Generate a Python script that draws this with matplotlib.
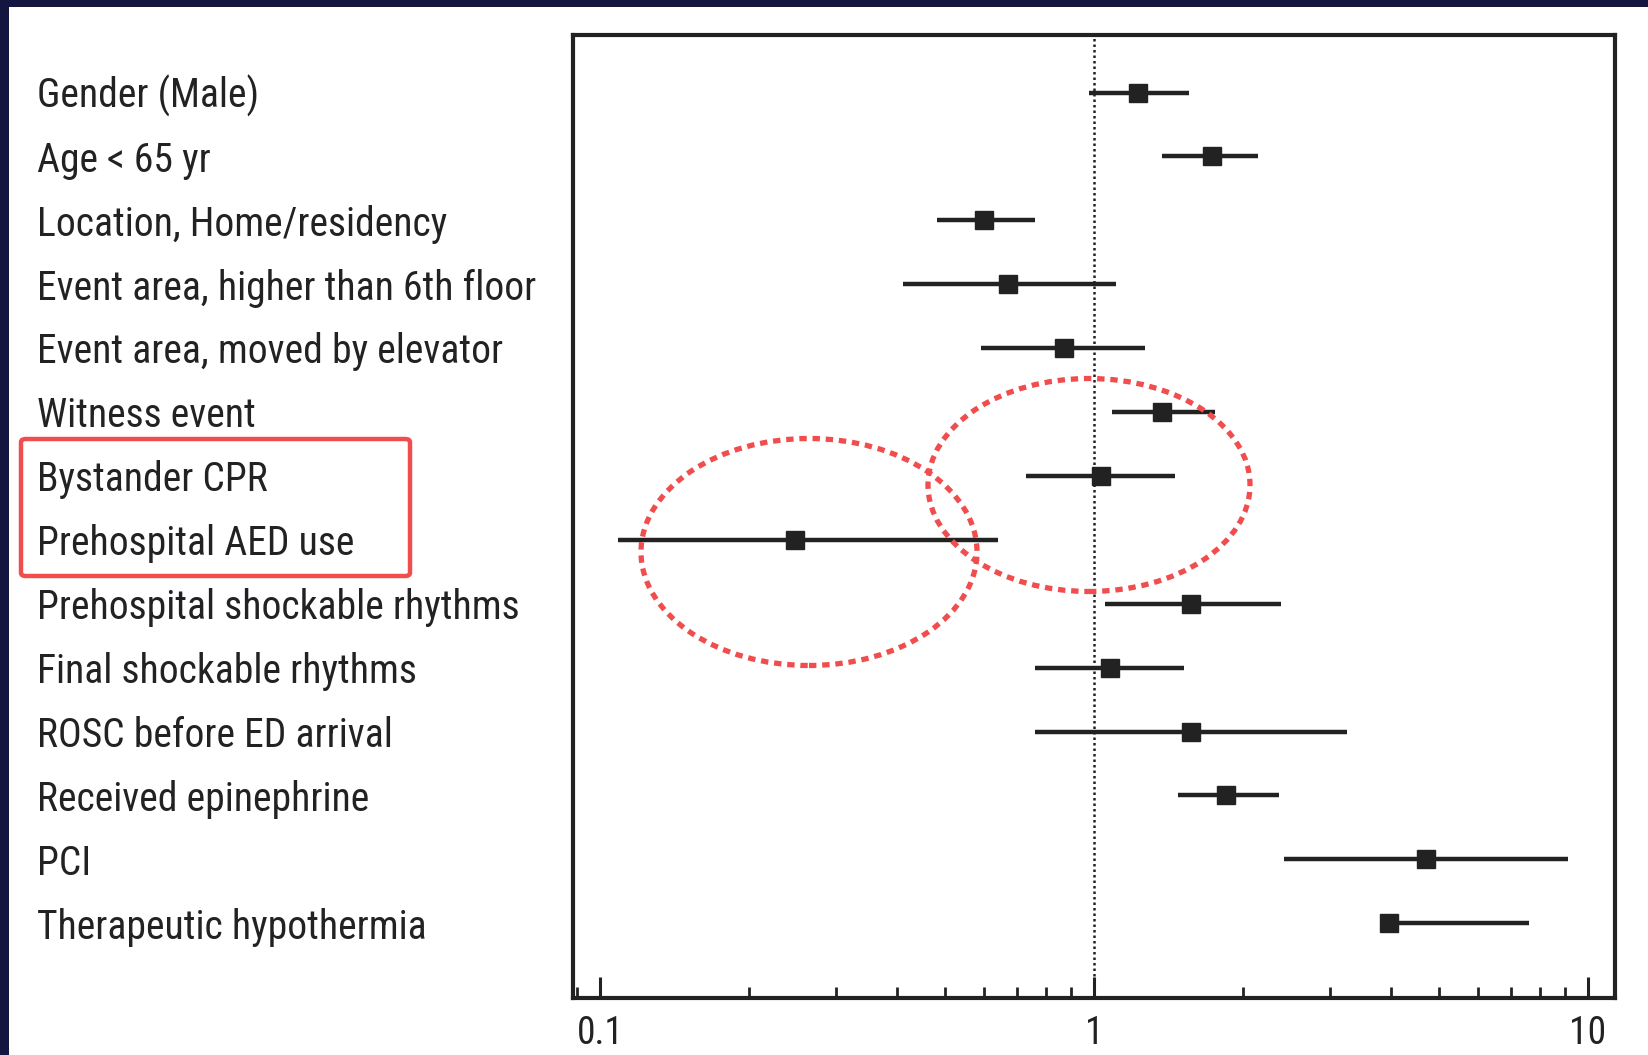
import matplotlib
matplotlib.use("Agg")
import matplotlib.pyplot as plt
from matplotlib.patches import Ellipse, FancyBboxPatch, Rectangle
from matplotlib.transforms import blended_transform_factory
from matplotlib.ticker import LogLocator, NullFormatter, FixedLocator, FixedFormatter

# Data: odds ratios with 95% CI
labels = [
    "Gender (Male)", "Age < 65 yr", "Location, Home/residency",
    "Event area, higher than 6th floor", "Event area, moved by elevator",
    "Witness event", "Bystander CPR", "Prehospital AED use",
    "Prehospital shockable rhythms", "Final shockable rhythms",
    "ROSC before ED arrival", "Received epinephrine", "PCI",
    "Therapeutic hypothermia",
]
odds = [1.23, 1.73, 0.60, 0.67, 0.87, 1.375, 1.035, 0.248, 1.57, 1.08, 1.57, 1.85, 4.70, 3.95]
ci_low = [0.976, 1.37, 0.48, 0.41, 0.59, 1.09, 0.73, 0.109, 1.055, 0.76, 0.76, 1.48, 2.42, 3.88]
ci_high = [1.56, 2.15, 0.76, 1.11, 1.27, 1.76, 1.46, 0.64, 2.39, 1.52, 3.25, 2.37, 9.11, 7.6]
xticks = [0.1, 1, 10]
xtick_labels = ["0.1", "1", "10"]

W, H = 1648, 1055
fig = plt.figure(figsize=(W / 100, H / 100), dpi=100)
fig.patch.set_facecolor("white")

ink = "#222222"
narrow = ["Roboto Condensed", "Archivo Narrow", "DejaVu Sans"]

ax = fig.add_axes([573 / W, 1 - 998 / H, (1615 - 573) / W, (998 - 35) / H])
rows = list(range(len(labels)))
for i in rows:
    ax.plot([ci_low[i], ci_high[i]], [i, i], color=ink, lw=3.2, solid_capstyle="butt")
ax.plot(odds, rows, "s", color=ink, markersize=13.5, linestyle="none")
ax.axvline(1, color=ink, lw=1.8, linestyle=(0, (1, 1.2)), zorder=0)

ax.set_xscale("log")
ax.set_xlim(0.0882, 11.34)
ax.set_ylim(14.17, -0.9)
ax.set_yticks([])
ax.xaxis.set_major_locator(FixedLocator(xticks))
ax.xaxis.set_major_formatter(FixedFormatter(xtick_labels))
ax.xaxis.set_minor_locator(LogLocator(base=10, subs=range(2, 10)))
ax.xaxis.set_minor_formatter(NullFormatter())
ax.tick_params(axis="x", which="major", direction="in", length=15, width=2.2,
               color=ink, pad=12, labelsize=27, labelcolor=ink)
ax.tick_params(axis="x", which="minor", direction="in", length=8, width=2, color=ink)
for lab in ax.get_xticklabels():
    lab.set_family(narrow)
for s in ax.spines.values():
    s.set_linewidth(3)
    s.set_color(ink)

# row labels on the left
tr = blended_transform_factory(fig.transFigure, ax.transData)
for i, name in enumerate(labels):
    fig.text(37 / W, i + 0.06, name, transform=tr, ha="left", va="center",
             fontsize=28.5, color=ink, family=narrow)

# red highlight annotations
red = "#F04E4E"
fig.patches.append(FancyBboxPatch((21 / W, 1 - 576 / H), 389 / W, 137 / H,
                                  boxstyle="round,pad=0,rounding_size=0.003",
                                  transform=fig.transFigure, fill=False,
                                  edgecolor=red, lw=3.2))
dot = (0, (1.4, 1.1))
fig.patches.append(Ellipse((809 / W, 1 - 552 / H), 336 / W, 227 / H,
                           transform=fig.transFigure, fill=False,
                           edgecolor=red, lw=3.8, linestyle=dot))
fig.patches.append(Ellipse((1089 / W, 1 - 485 / H), 322 / W, 213 / H,
                           transform=fig.transFigure, fill=False,
                           edgecolor=red, lw=3.8, linestyle=dot))

# dark slide border on top and left
fig.patches.append(Rectangle((0, 1 - 7 / H), 1, 7 / H, transform=fig.transFigure,
                             color="#14163F", lw=0))
fig.patches.append(Rectangle((0, 0), 9 / W, 1, transform=fig.transFigure,
                             color="#14163F", lw=0))

fig.savefig("out.png", dpi=100)
